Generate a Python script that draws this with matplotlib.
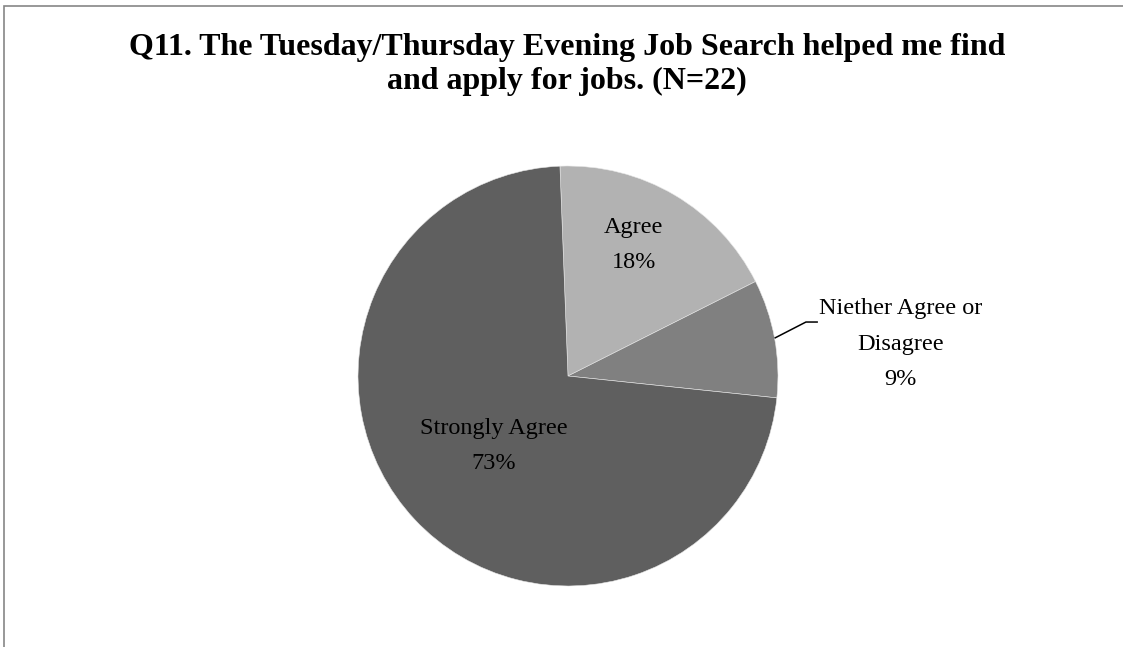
import numpy as np
import matplotlib
matplotlib.use("Agg")
import matplotlib.pyplot as plt
from matplotlib.patches import Rectangle

# Survey responses (counts out of N=22)
categories = ["Agree", "Niether Agree or\nDisagree", "Strongly Agree"]
counts = [4, 2, 16]
colors = ["#b2b2b2", "#808080", "#5f5f5f"]
title = "Q11. The Tuesday/Thursday Evening Job Search helped me find\nand apply for jobs. (N=22)"

W, H, DPI = 1123, 647, 100
fig = plt.figure(figsize=(W / DPI, H / DPI), dpi=DPI)
fig.patch.set_facecolor("white")

# Axes filling the figure; one data unit equals the pie radius in pixels
R = 210.0
cx, cy = 568.0, 376.0
ax = fig.add_axes([0, 0, 1, 1])

start = 92.2
wedges, _ = ax.pie(counts, colors=colors, startangle=start, counterclock=False,
                   radius=1.0, center=(0, 0), frame=True,
                   wedgeprops=dict(edgecolor="#e8e8e8", linewidth=0.4))
ax.set_xlim(-cx / R, (W - cx) / R)
ax.set_ylim(-(H - cy) / R, cy / R)
ax.axis("off")

total = sum(counts)
pcts = [f"{round(100 * c / total)}%" for c in counts]
font = "Liberation Serif"
fs = 17.5
ls = 1.9

# Label anchor offsets (in pie-radius units)
label_pos = {0: (0.314, 0.625), 2: (-0.352, -0.333)}
for i, (x, y) in label_pos.items():
    ax.text(x, y, f"{categories[i]}\n{pcts[i]}",
            ha="center", va="center", fontsize=fs, family=font, color="black",
            linespacing=ls)

# Outside label with leader line from the slice's mid-angle
w = wedges[1]
a = np.deg2rad((w.theta1 + w.theta2) / 2.0)
p0 = (np.cos(a), np.sin(a))
elbow = (1.133, 0.257)
end = (1.19, 0.257)
ax.plot([p0[0], elbow[0], end[0]], [p0[1], elbow[1], end[1]],
        color="black", linewidth=1.1, solid_capstyle="butt")
ax.text(1.585, 0.152, f"{categories[1]}\n{pcts[1]}", ha="center", va="center",
        fontsize=fs, family=font, color="black", linespacing=ls)

# Title
fig.text(567 / W, 1 - 64.5 / H, title, ha="center", va="center",
         fontsize=23, fontweight="bold", family=font, linespacing=1.22)

# Chart border
fig.patches.append(Rectangle((4 / W, -0.05), 1.1, 1 - 5.5 / H + 0.05,
                             transform=fig.transFigure, fill=False,
                             edgecolor="#868686", linewidth=1.2))

fig.savefig("out.png", dpi=DPI, facecolor="white")
